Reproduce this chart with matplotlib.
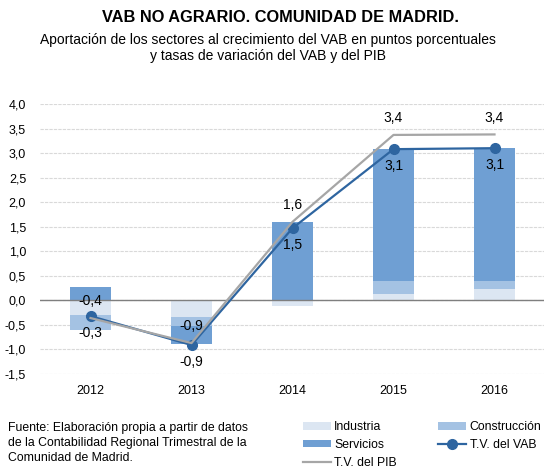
import numpy as np
import matplotlib
matplotlib.use("Agg")
import matplotlib.pyplot as plt
from matplotlib.ticker import FuncFormatter

plt.rcParams['font.family'] = ['Liberation Sans', 'DejaVu Sans']

# Data
years = ['2012', '2013', '2014', '2015', '2016']
industria = [-0.30, -0.33, -0.12, 0.13, 0.24]
construccion = [-0.30, -0.20, 0.00, 0.27, 0.16]
servicios = [0.28, -0.36, 1.60, 2.69, 2.70]
tv_vab = [-0.32, -0.91, 1.47, 3.08, 3.10]
tv_pib = [-0.36, -0.87, 1.60, 3.37, 3.38]

c_ind = '#dce6f2'
c_con = '#a4c2e3'
c_ser = '#6f9fd3'
c_vab = '#2e65a0'
c_pib = '#a6a6a6'


def coma(v, pos=None):
    return f"{v:.1f}".replace('.', ',')


fig = plt.figure(figsize=(5.44, 4.68), dpi=100)
ax = fig.add_axes([40 / 544, 1 - 374 / 468, 505 / 544, 270 / 468])

x = np.arange(len(years))
width = 0.41

# stacked bars, positives and negatives stacked separately from zero
pos_base = np.zeros(len(years))
neg_base = np.zeros(len(years))
handles = {}
for name, vals, col in [('Industria', industria, c_ind),
                        ('Construcción', construccion, c_con),
                        ('Servicios', servicios, c_ser)]:
    vals = np.array(vals)
    bottom = np.where(vals >= 0, pos_base, neg_base)
    handles[name] = ax.bar(x, vals, width, bottom=bottom, color=col, zorder=2)
    pos_base = pos_base + np.where(vals > 0, vals, 0)
    neg_base = neg_base + np.where(vals < 0, vals, 0)

ax.axhline(0, color='#7f7f7f', lw=1, zorder=3)

h_vab, = ax.plot(x, tv_vab, color=c_vab, lw=1.6, marker='o', ms=7, zorder=4)
h_pib, = ax.plot(x, tv_pib, color=c_pib, lw=1.6, zorder=5)

for i in range(len(years)):
    ax.annotate(coma(tv_pib[i]), (x[i], tv_pib[i]), xytext=(0, 7),
                textcoords='offset points', ha='center', va='bottom', fontsize=10)
    ax.annotate(coma(tv_vab[i]), (x[i], tv_vab[i]), xytext=(0, -7),
                textcoords='offset points', ha='center', va='top', fontsize=10)

ax.set_xlim(-0.5, 4.5)
ax.set_ylim(-1.5, 4.0)
ax.set_yticks(np.arange(-1.5, 4.01, 0.5))
ax.yaxis.set_major_formatter(FuncFormatter(coma))
ax.set_xticks(x)
ax.set_xticklabels(years)
ax.tick_params(length=0, labelsize=9, pad=8)
ax.tick_params(axis='y', pad=10)
ax.grid(axis='y', color='#d9d9d9', lw=0.8, ls=(0, (3, 1)), zorder=0)
for s in ax.spines.values():
    s.set_visible(False)

fig.text(280 / 544, 1 - 18 / 468, 'VAB NO AGRARIO. COMUNIDAD DE MADRID.',
         ha='center', va='center', fontsize=11.8, fontweight='bold')
fig.text(268 / 544, 1 - 48 / 468,
         'Aportación de los sectores al crecimiento del VAB en puntos porcentuales\n'
         'y tasas de variación del VAB y del PIB',
         ha='center', va='center', fontsize=10, linespacing=1.2)

fig.text(8 / 544, 1 - 443 / 468,
         'Fuente: Elaboración propia a partir de datos\n'
         'de la Contabilidad Regional Trimestral de la\n'
         'Comunidad de Madrid.',
         ha='left', va='center', fontsize=8.8, linespacing=1.3)

leg = fig.legend([handles['Industria'], handles['Servicios'], h_pib,
                  handles['Construcción'], h_vab],
                 ['Industria', 'Servicios', 'T.V. del PIB', 'Construcción', 'T.V. del VAB'],
                 ncol=2, loc='upper left', bbox_to_anchor=(303 / 544, 1 - 421 / 468),
                 frameon=False, fontsize=8.8, handlelength=2.3, handleheight=0.6,
                 handletextpad=0.25, columnspacing=3.4, labelspacing=0.48,
                 borderaxespad=0, borderpad=0)

fig.savefig('out.png', dpi=100)
